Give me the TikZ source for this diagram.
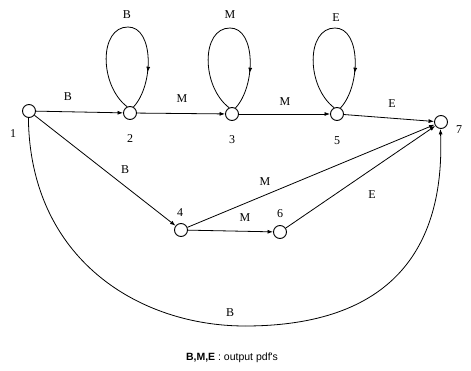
\documentclass[tikz,border=0pt]{standalone}
\usepackage{fontspec}
\setmainfont{Liberation Serif}
\newfontfamily\capfont{Liberation Sans}
\usetikzlibrary{arrows.meta,calc,decorations.markings}
\tikzset{
  state/.style={circle,draw,line width=0.9pt,minimum size=13pt,inner sep=0pt,fill=white},
  edge/.style={line width=0.8pt,-{Latex[length=5.5pt,width=4pt]}},
  arcedge/.style={line width=0.8pt},
  lbl/.style={font=\fontsize{12}{14}\selectfont,inner sep=0pt},
  loopedge/.style={line width=0.8pt,postaction={decorate},
    decoration={markings,mark=at position 0.8 with {\arrow{Latex[length=5.5pt,width=4pt]}}}}
}
\newcommand\myloop[1]{%
  \draw[loopedge] (#1.115) .. controls ($(#1)+(-31,-28)$) and ($(#1)+(-31,-86)$) ..
    ($(#1)+(-2,-86)$) .. controls ($(#1)+(24,-86)$) and ($(#1)+(24,-28)$) .. (#1.60);}
\begin{document}
\begin{tikzpicture}[x=1pt,y=-1pt]
\useasboundingbox (0,0) rectangle (471,371);
% nodes
\node[state] (n1) at (29,111) {};
\node[state] (n2) at (130,113) {};
\node[state] (n3) at (232,114) {};
\node[state] (n5) at (337,114) {};
\node[state] (n7) at (441,122) {};
\node[state] (n4) at (181,230) {};
\node[state] (n6) at (280,232) {};
% node numbers
\node[lbl] (t1) at (13,134) {1};
\node[lbl] (t2) at (130,139) {2};
\node[lbl] (t3) at (232,140) {3};
\node[lbl] (t5) at (337,141) {5};
\node[lbl] (t7) at (459,130) {7};
\node[lbl] (t4) at (180,213) {4};
\node[lbl] (t6) at (280,214) {6};
% loops
\myloop{n2}
\myloop{n3}
\myloop{n5}
\node[lbl] (l2) at (127,15) {B};
\node[lbl] (l3) at (230,15) {M};
\node[lbl] (l5) at (336,18) {E};
% edges
\draw[edge] (n1) -- (n2);
\draw[edge] (n2) -- (n3);
\draw[edge] (n3) -- (n5);
\draw[edge] (n5) -- (n7);
\draw[edge] (n1) -- (n4);
\draw[edge] (n4) -- (n6);
\draw[edge] (n4) -- (n7);
\draw[edge] (n6) -- (n7);
\coordinate (bot) at (245,326);
\draw[arcedge] (n1.-95) .. controls (30,260) and (140,326) .. (bot);
\draw[edge] (bot) .. controls (390,326) and (445,250) .. (n7.-95);
% edge labels
\node[lbl] (e12) at (68,97) {B};
\node[lbl] (e23) at (182,99) {M};
\node[lbl] (e35) at (285,102) {M};
\node[lbl] (e57) at (392,104) {E};
\node[lbl] (e14) at (125,170) {B};
\node[lbl] (e47) at (265,182) {M};
\node[lbl] (e46) at (245,218) {M};
\node[lbl] (e67) at (372,195) {E};
\node[lbl] (eb) at (230,313) {B};
% caption
\node[font=\capfont\fontsize{10.5}{12}\selectfont,inner sep=0pt] (cap) at (232,358) {\textbf{B,M,E} : output pdf's};
\end{tikzpicture}
\end{document}
